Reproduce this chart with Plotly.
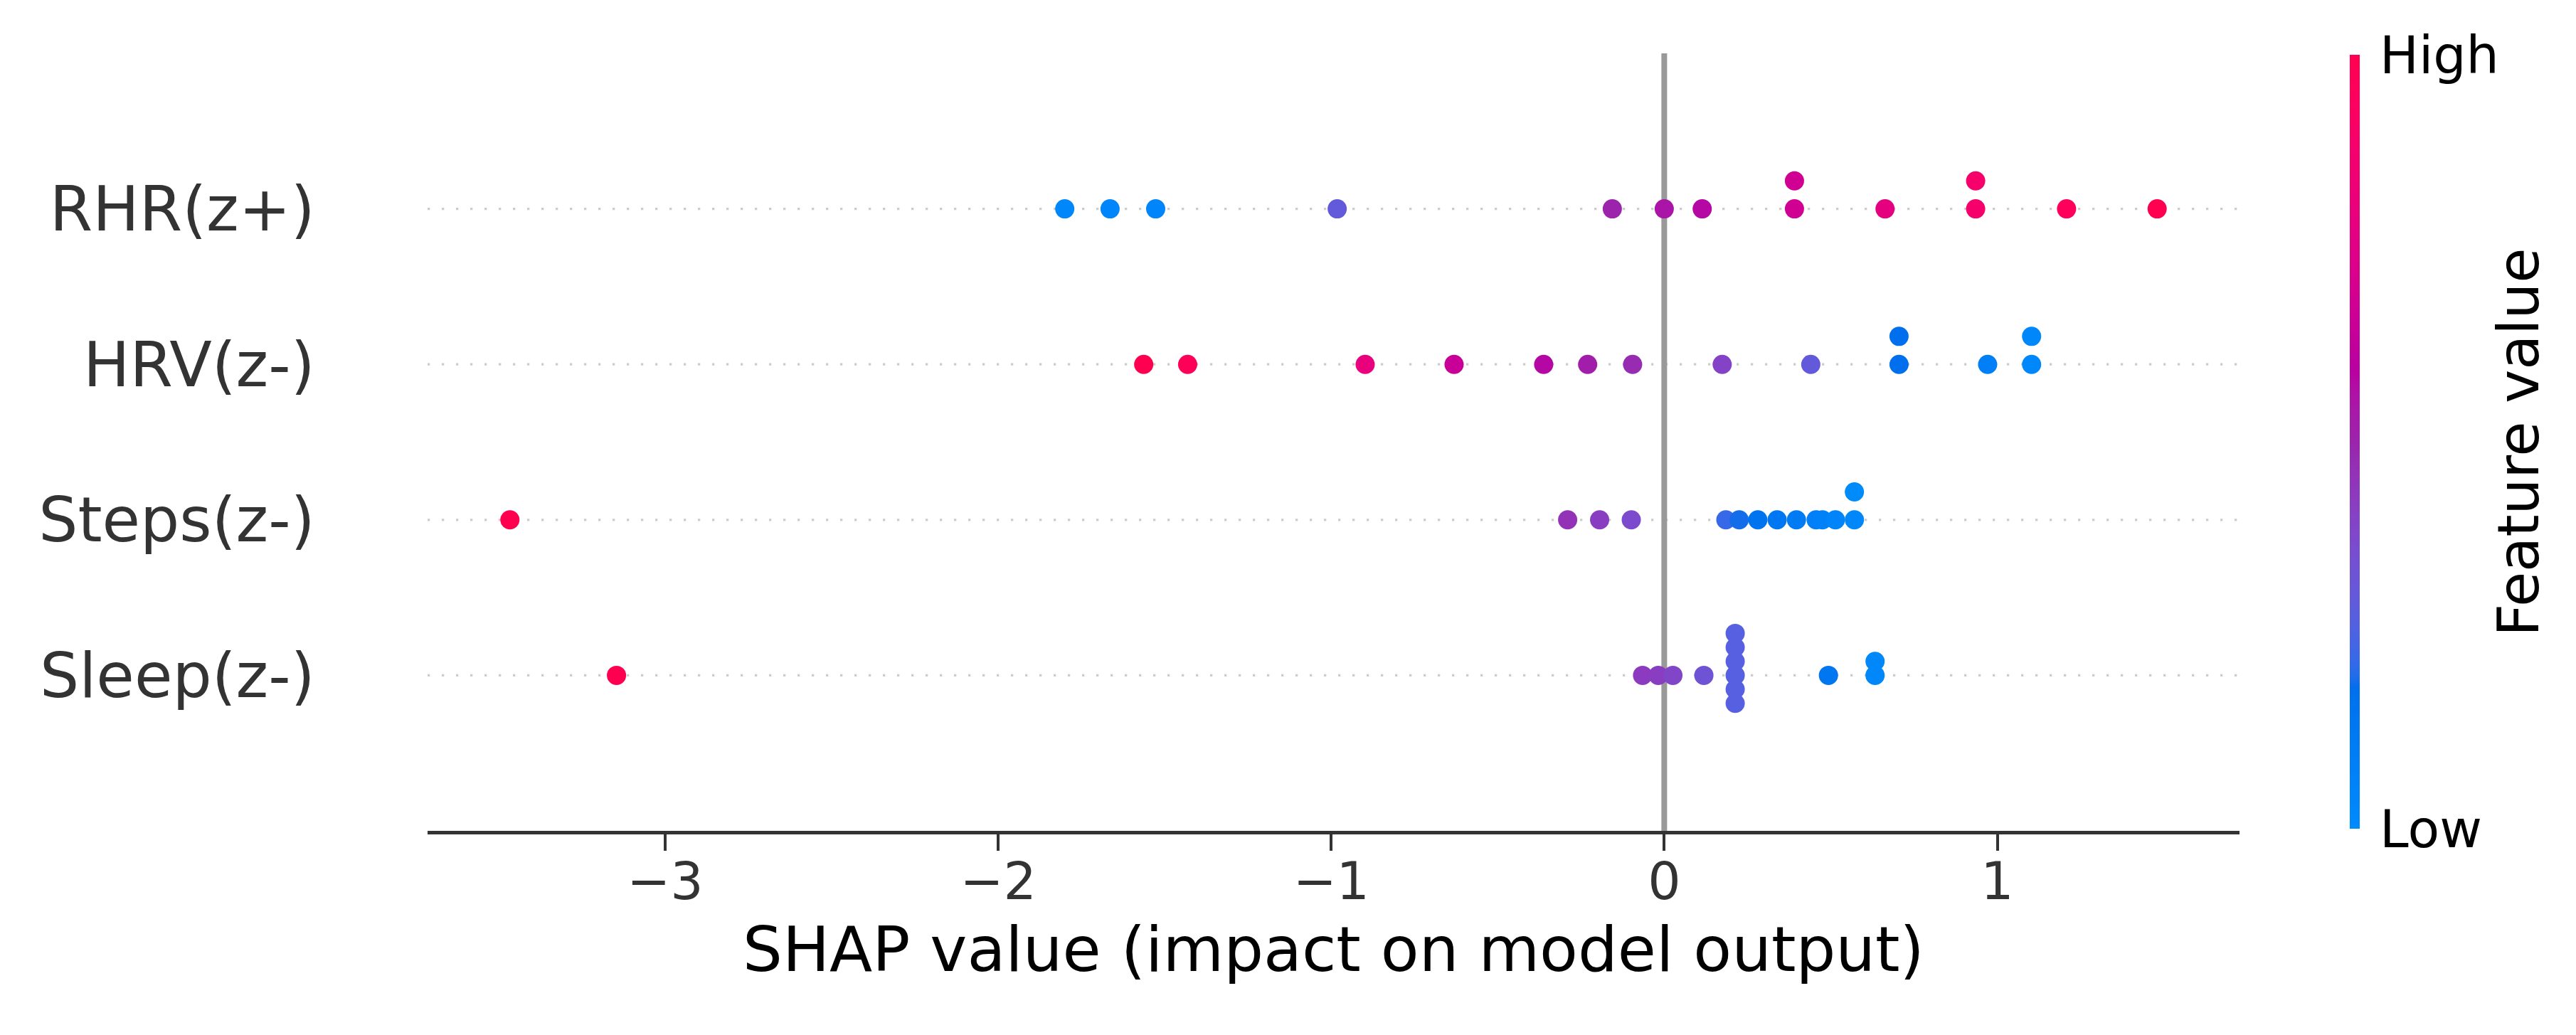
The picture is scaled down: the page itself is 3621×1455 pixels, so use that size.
import numpy as np
import plotly.graph_objects as go

# ---------------- data ----------------
features = ["Sleep(z-)", "Steps(z-)", "HRV(z-)", "RHR(z+)"]  # bottom -> top

sleep_shap = [-3.146, -0.065, -0.018, 0.026, 0.119, 0.213, 0.213, 0.213, 0.213, 0.213, 0.213, 0.493, 0.633, 0.633]
sleep_feat = [1.00, 0.43, 0.42, 0.39, 0.33, 0.27, 0.27, 0.27, 0.27, 0.27, 0.27, 0.14, 0.02, 0.02]

steps_shap = [-3.466, -0.290, -0.194, -0.099, 0.185, 0.225, 0.281, 0.339, 0.397, 0.456, 0.475, 0.514, 0.571, 0.571]
steps_feat = [1.00, 0.46, 0.42, 0.37, 0.22, 0.19, 0.16, 0.13, 0.11, 0.08, 0.07, 0.05, 0.02, 0.00]

hrv_shap = [-1.563, -1.431, -0.898, -0.631, -0.362, -0.230, -0.095, 0.174, 0.440, 0.705, 0.705, 0.971, 1.103, 1.103]
hrv_feat = [1.00, 0.97, 0.80, 0.65, 0.58, 0.52, 0.48, 0.40, 0.30, 0.18, 0.18, 0.08, 0.02, 0.02]

rhr_shap = [-1.800, -1.664, -1.527, -0.982, -0.156, 0.000, 0.114, 0.391, 0.391, 0.663, 0.935, 0.935, 1.208, 1.480]
rhr_feat = [0.02, 0.03, 0.03, 0.30, 0.50, 0.55, 0.58, 0.68, 0.68, 0.78, 0.88, 0.88, 0.95, 1.00]

shap_rows = [sleep_shap, steps_shap, hrv_shap, rhr_shap]
feat_rows = [sleep_feat, steps_feat, hrv_feat, rhr_feat]

x_tick_vals = [-3, -2, -1, 0, 1]
x_tick_text = ["\u22123", "\u22122", "\u22121", "0", "1"]
cbar_tick_text = ["Low", "High"]
x_title = "SHAP value (impact on model output)"
cbar_title = "Feature value"

FONT = "DejaVu Sans"


# ---------------- shap red_blue colormap (Lch interpolation) ----------------
def lch_to_rgb(l, c, h):
    a = c * np.cos(h)
    b = c * np.sin(h)
    fy = (l + 16.0) / 116.0
    fx = a / 500.0 + fy
    fz = max(fy - b / 200.0, 0.0)
    def finv(t):
        return t ** 3 if t ** 3 > 0.008856 else (t - 16.0 / 116.0) / 7.787
    X = finv(fx) * 0.95047
    Y = finv(fy) * 1.0
    Z = finv(fz) * 1.08883
    M = np.array([[3.24048134, -1.53715152, -0.49853633],
                  [-0.96925495, 1.87599, 0.04155593],
                  [0.05564664, -0.20404134, 1.05731107]])
    rgb = M @ np.array([X, Y, Z])
    out = []
    for v in rgb:
        v = 1.055 * v ** (1 / 2.4) - 0.055 if v > 0.0031308 else 12.92 * v
        out.append(min(max(v, 0.0), 1.0))
    return out


def red_blue_scale(nsteps=100):
    blue_lch = [54.0, 70.0, 4.6588]
    l_mid = 40.0
    red_lch = [54.0, 90.0, 0.35470565 + 2 * np.pi]
    l_vals = list(np.linspace(blue_lch[0], l_mid, nsteps // 2)) + list(np.linspace(l_mid, red_lch[0], nsteps // 2))
    c_vals = np.linspace(blue_lch[1], red_lch[1], nsteps)
    h_vals = np.linspace(blue_lch[2], red_lch[2], nsteps)
    scale = []
    for pos, l, c, h in zip(np.linspace(0, 1, nsteps), l_vals, c_vals, h_vals):
        r, g, b = lch_to_rgb(l, c, h)
        scale.append([float(pos), "rgb(%d,%d,%d)" % (round(r * 255), round(g * 255), round(b * 255))])
    return scale


# ---------------- shap beeswarm offsets ----------------
def beeswarm_offsets(vals, row_height=0.4, nbins=100):
    v = np.asarray(vals, dtype=float)
    quant = np.round(nbins * (v - v.min()) / (v.max() - v.min() + 1e-8))
    inds = np.argsort(quant, kind="stable")
    ys = np.zeros(len(v))
    layer = 0
    last_bin = -1
    for ind in inds:
        if quant[ind] != last_bin:
            layer = 0
        ys[ind] = np.ceil(layer / 2) * ((layer % 2) * 2 - 1)
        layer += 1
        last_bin = quant[ind]
    ys *= 0.9 * (row_height / np.max(ys + 1))
    return ys


xs_all, ys_all, cs_all = [], [], []
for pos, (sv, fv) in enumerate(zip(shap_rows, feat_rows)):
    off = beeswarm_offsets(sv)
    xs_all += list(sv)
    ys_all += list(pos + off)
    cs_all += list(fv)

all_vals = np.concatenate([np.asarray(r) for r in shap_rows])
span = all_vals.max() - all_vals.min()
x_range = [all_vals.min() - 0.05 * span, all_vals.max() + 0.05 * span]

fig = go.Figure()

fig.add_trace(go.Scatter(
    x=xs_all, y=ys_all, mode="markers",
    marker=dict(
        size=27, color=cs_all, cmin=0, cmax=1,
        colorscale=red_blue_scale(),
        line=dict(width=0),
        colorbar=dict(
            thickness=14, thicknessmode="pixels",
            len=1088, lenmode="pixels",
            x=1.0609, xanchor="left", xpad=0,
            y=0.5, yanchor="middle", ypad=0,
            outlinewidth=0,
            tickmode="array", tickvals=[0, 1], ticktext=cbar_tick_text,
            ticks="outside", ticklen=14, tickcolor="rgba(0,0,0,0)",
            tickfont=dict(family=FONT, size=73, color="#000000"),
        ),
    ),
    showlegend=False, hoverinfo="x",
))

shapes = []
for pos in range(len(features)):
    shapes.append(dict(type="line", xref="paper", x0=0, x1=1, yref="y", y0=pos, y1=pos,
                       line=dict(color="#cccccc", width=3.3, dash="3.3px,16.7px"), layer="below"))
shapes.append(dict(type="line", xref="x", x0=0, x1=0, yref="paper", y0=0, y1=1,
                   line=dict(color="#999999", width=8), layer="below"))

fig.update_layout(
    width=3621, height=1455,
    margin=dict(l=601, r=473, t=75, b=287, pad=0),
    paper_bgcolor="white", plot_bgcolor="white",
    font=dict(family=FONT, color="#333333"),
    shapes=shapes,
    annotations=[dict(text=cbar_title, xref="paper", yref="paper", x=1.154, y=0.5,
                      xanchor="center", yanchor="middle", textangle=-90, showarrow=False,
                      font=dict(family=FONT, size=80, color="#000000"))],
    xaxis=dict(
        range=x_range, showgrid=False, zeroline=False,
        showline=True, linecolor="#333333", linewidth=5,
        ticks="outside", ticklen=23, tickwidth=3.5, tickcolor="#333333",
        ticklabelstandoff=-20,
        tickmode="array", tickvals=x_tick_vals, ticktext=x_tick_text,
        tickfont=dict(family=FONT, size=73, color="#333333"),
        title=dict(text=x_title, standoff=25, font=dict(family=FONT, size=88, color="#000000")),
    ),
    yaxis=dict(
        range=[-1, len(features)], showgrid=False, zeroline=False, showline=False,
        tickmode="array", tickvals=list(range(len(features))), ticktext=features,
        ticks="outside", ticklen=140, tickcolor="rgba(0,0,0,0)",
        tickfont=dict(family=FONT, size=87, color="#333333"),
    ),
)

fig.write_html("out.html", config={"displayModeBar": False},
               post_script="document.body.style.margin='0';")
